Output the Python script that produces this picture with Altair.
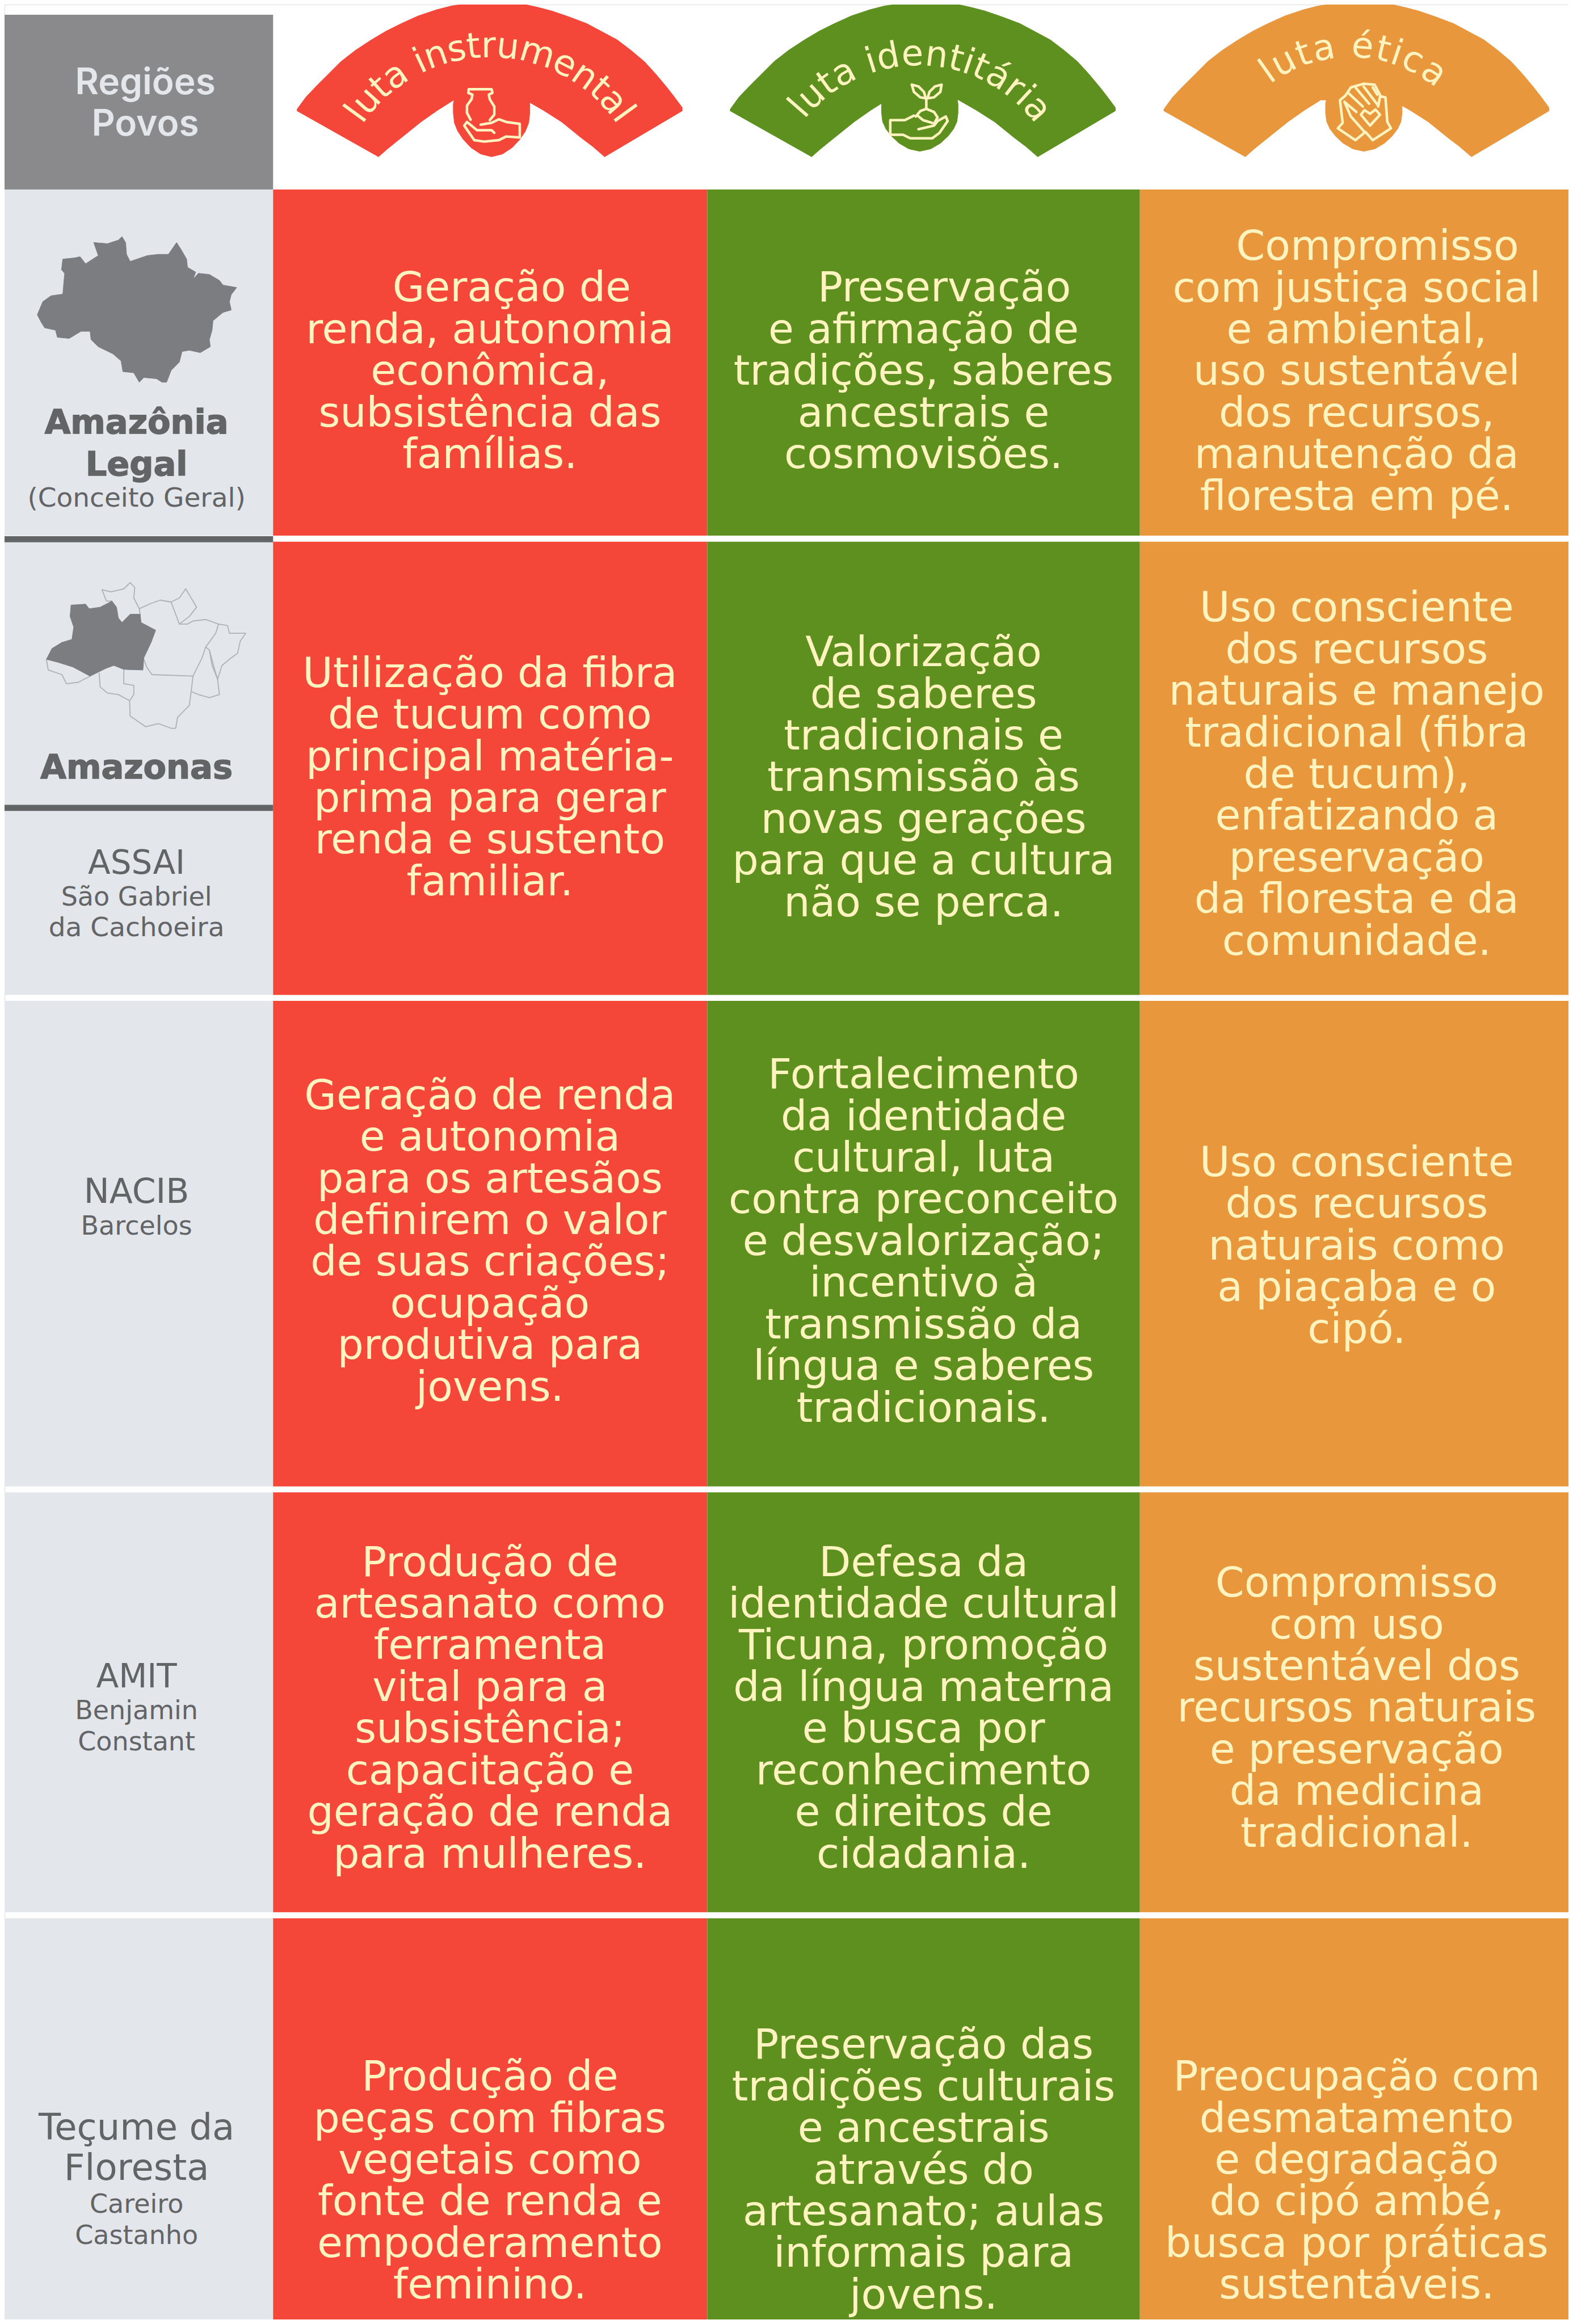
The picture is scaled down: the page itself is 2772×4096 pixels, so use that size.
import math
import altair as alt
import pandas as pd

S = 2772 / 2880
M = 8
W_REF, H_REF = 2880, 4256

RED, GREEN, ORANGE = "#F44739", "#5E901F", "#E8973C"
LIGHT, GRAY, DARK, CREAM = "#E3E6EB", "#8A8A8C", "#636466", "#FFF3C0"
FONT = "DejaVu Sans"

col_edges = [0, 500, 1295, 2087, 2880]
col_colors = [LIGHT, RED, GREEN, ORANGE]
row_tops = [347, 992, 1833, 2733, 3513]
row_bottoms = [981, 1822, 2722, 3502, 4256]
rules_left = [(982, 993), (1474, 1485)]
header_box = (0, 500, 27, 348)

col_centers = [897, 1691, 2484]
line_step = 76.3
first_baselines = [
    [552, 552, 476],
    [1258, 1220, 1138],
    [2031, 1993, 2154],
    [2886, 2886, 2924],
    [3828, 3770, 3828],
]
first_line_shift = {(0, 0): 40, (0, 1): 38, (0, 2): 38}
cells = [
    [
        ["Geração de", "renda, autonomia", "econômica,", "subsistência das", "famílias."],
        ["Preservação", "e afirmação de", "tradições, saberes", "ancestrais e", "cosmovisões."],
        ["Compromisso", "com justiça social", "e ambiental,", "uso sustentável", "dos recursos,", "manutenção da", "floresta em pé."],
    ],
    [
        ["Utilização da fibra", "de tucum como", "principal matéria-", "prima para gerar", "renda e sustento", "familiar."],
        ["Valorização", "de saberes", "tradicionais e", "transmissão às", "novas gerações", "para que a cultura", "não se perca."],
        ["Uso consciente", "dos recursos", "naturais e manejo", "tradicional (fibra", "de tucum),", "enfatizando a", "preservação", "da floresta e da", "comunidade."],
    ],
    [
        ["Geração de renda", "e autonomia", "para os artesãos", "definirem o valor", "de suas criações;", "ocupação", "produtiva para", "jovens."],
        ["Fortalecimento", "da identidade", "cultural, luta", "contra preconceito", "e desvalorização;", "incentivo à", "transmissão da", "língua e saberes", "tradicionais."],
        ["Uso consciente", "dos recursos", "naturais como", "a piaçaba e o", "cipó."],
    ],
    [
        ["Produção de", "artesanato como", "ferramenta", "vital para a", "subsistência;", "capacitação e", "geração de renda", "para mulheres."],
        ["Defesa da", "identidade cultural", "Ticuna, promoção", "da língua materna", "e busca por", "reconhecimento", "e direitos de", "cidadania."],
        ["Compromisso", "com uso", "sustentável dos", "recursos naturais", "e preservação", "da medicina", "tradicional."],
    ],
    [
        ["Produção de", "peças com fibras", "vegetais como", "fonte de renda e", "empoderamento", "feminino."],
        ["Preservação das", "tradições culturais", "e ancestrais", "através do", "artesanato; aulas", "informais para", "jovens."],
        ["Preocupação com", "desmatamento", "e degradação", "do cipó ambé,", "busca por práticas", "sustentáveis."],
    ],
]

left_labels = [
    ("Amazônia", 794, 59, "bold"),
    ("Legal", 871, 59, "bold"),
    ("(Conceito Geral)", 928, 47, "normal"),
    ("Amazonas", 1426, 59, "bold"),
    ("ASSAI", 1600, 58, "normal"),
    ("São Gabriel", 1658, 46, "normal"),
    ("da Cachoeira", 1714, 47, "normal"),
    ("NACIB", 2203, 60, "normal"),
    ("Barcelos", 2261, 46, "normal"),
    ("AMIT", 3090, 58, "normal"),
    ("Benjamin", 3148, 46, "normal"),
    ("Constant", 3206, 46, "normal"),
    ("Teçume da", 3918, 64, "normal"),
    ("Floresta", 3992, 64, "normal"),
    ("Careiro", 4052, 46, "normal"),
    ("Castanho", 4110, 46, "normal"),
]
header_labels = [("Regiões", 172), ("Povos", 248)]

arc_titles = [
    ("luta instrumental", 897, 387, 302, 54),
    ("luta identitária", 1681, 388, 288, 49),
    ("luta ética", 2473, 350, 265, 35),
]
ADV = {"l": .278, "u": .634, "t": .392, "a": .613, " ": .318, "i": .278, "n": .634, "s": .521,
       "r": .411, "m": .974, "e": .615, "d": .635, "á": .613, "é": .615, "c": .55}

band_outer = [(-353, 200), (-337, 178), (-318, 158), (-296, 136), (-273, 113), (-246, 92), (-217, 73), (-190, 57),
              (-162, 43), (-131, 29), (-98, 18), (-71, 11), (-43, 7), (-15, 3),
              (20, 3), (58, 7), (86, 13), (113, 20), (145, 31), (177, 43), (205, 58), (233, 73), (258, 92),
              (283, 113), (304, 136), (324, 160), (338, 178), (352, 197)]
band_inner = [(352, 203), (210, 287), (188, 268), (168, 253), (131, 223), (98, 202), (65, 183), (-66, 183),
              (-96, 202), (-126, 223), (-172, 260), (-188, 273), (-204, 287), (-353, 203)]
bulb = [(-66, 170), (-70, 190), (-70, 207), (-68, 225), (-62, 240), (-52, 255), (-38, 270), (-20, 282), (0, 287),
        (20, 282), (38, 270), (52, 255), (62, 240), (68, 225), (70, 207), (70, 190), (66, 170)]
headers = [(897, 900, 0, RED), (1690, 1684, -10, GREEN), (2484, 2497, -10, ORANGE)]

# icons: (crop x, crop y) with crop scale 3
icon_jar = [
    [(235, 100), (360, 100), (365, 120), (345, 130), (350, 155), (375, 195), (375, 240), (350, 270)],
    [(235, 100), (232, 120), (255, 130), (250, 155), (225, 190), (225, 230), (245, 268)],
    [(300, 295), (360, 285), (400, 265), (440, 280), (515, 290), (515, 365), (440, 360), (400, 380), (320, 388),
     (265, 380), (210, 300), (225, 280), (280, 325), (360, 325), (375, 340)],
]
icon_sprout = [
    [(375, 150), (345, 145), (310, 115), (298, 75), (335, 85), (365, 115), (375, 150)],
    [(385, 150), (420, 145), (455, 115), (462, 75), (425, 85), (395, 115), (385, 150)],
    [(378, 150), (378, 205)],
    [(320, 250), (345, 220), (378, 208), (420, 225), (440, 255), (420, 290)],
    [(330, 245), (360, 270), (410, 285)],
    [(310, 245), (260, 270), (180, 270), (180, 350), (250, 350), (290, 370), (410, 370), (450, 340), (495, 275),
     (485, 250), (440, 275), (420, 300), (335, 320)],
]
icon_hands = [
    [(335, 380), (238, 315), (265, 285), (250, 160), (280, 135), (310, 90), (380, 70), (440, 75), (475, 140),
     (500, 145), (510, 280), (530, 315), (430, 380), (390, 335), (335, 380)],
    [(275, 170), (340, 225)], [(300, 125), (375, 195)], [(335, 90), (410, 180)], [(380, 85), (460, 190)],
    [(430, 90), (455, 130)], [(275, 170), (310, 250), (385, 335)], [(470, 140), (460, 195)],
    [(415, 300), (365, 240), (385, 215), (415, 235), (445, 212), (470, 240), (415, 300)],
]
icons = [(780, 130, icon_jar), (1570, 130, icon_sprout), (2370, 130, icon_hands)]

# maps
map_legal = [(205, 545), (235, 490), (280, 465), (345, 458), (355, 370), (338, 355), (345, 310), (410, 305), (440, 300),
             (470, 330), (540, 295), (515, 240), (590, 245), (650, 230), (670, 215), (690, 240), (695, 290), (715, 320),
             (810, 295), (870, 290), (925, 290), (970, 240), (995, 270), (1025, 310), (1030, 345), (1075, 365), (1060, 395),
             (1090, 370), (1150, 375), (1205, 400), (1225, 420), (1300, 430), (1270, 460), (1260, 490), (1270, 525),
             (1225, 535), (1170, 570), (1165, 610), (1150, 650), (1155, 680), (1100, 705), (1040, 695), (1000, 700),
             (985, 745), (940, 780), (915, 830), (890, 830), (860, 815), (790, 810), (765, 830), (735, 790), (675, 785),
             (665, 740), (620, 710), (540, 680), (500, 650), (495, 615), (445, 615), (380, 645), (315, 640), (305, 610),
             (245, 600), (225, 575)]
map_amazonas = [(255, 405), (285, 370), (340, 350), (395, 340), (405, 300), (385, 265), (390, 228), (470, 225), (490, 240),
                (550, 235), (615, 215), (640, 235), (650, 270), (670, 285), (715, 258), (770, 258), (775, 285), (855, 310),
                (830, 350), (790, 400), (785, 440), (680, 438), (625, 425), (580, 435), (495, 460), (400, 430), (320, 415)]
map_states = [
    [(615, 215), (585, 215), (560, 178), (610, 185), (680, 175), (715, 155), (740, 170), (735, 205), (765, 240), (770, 258)],
    [(765, 240), (820, 225), (880, 212), (940, 218), (985, 290)],
    [(940, 218), (985, 205), (1020, 175), (1045, 200), (1080, 235), (1040, 265), (985, 290)],
    [(985, 290), (1030, 290), (1060, 280), (1130, 275), (1200, 290), (1185, 320), (1130, 365), (1110, 400), (1060, 460),
     (835, 455), (805, 430), (790, 405)],
    [(1200, 290), (1250, 295), (1260, 320), (1350, 320), (1320, 345), (1305, 385), (1260, 405), (1220, 425), (1195, 470),
     (1175, 430), (1150, 375), (1130, 365)],
    [(1150, 375), (1165, 425), (1195, 470), (1205, 520), (1150, 530), (1090, 520), (1050, 510), (1060, 460)],
    [(680, 440), (680, 485), (735, 490), (735, 520), (712, 540), (715, 590), (800, 625), (870, 615), (940, 630), (965, 630),
     (975, 595), (1040, 555), (1050, 510)],
    [(545, 450), (550, 495), (590, 515), (650, 520), (712, 540)],
    [(255, 405), (265, 440), (340, 455), (365, 485), (430, 480), (495, 460)],
]

# ---- scales: reference pixels onto the page (the page margin sits at 8px on each side)
X = alt.X("x:Q", scale=alt.Scale(domain=[0, W_REF], range=[-M, 2772 - M]), axis=None)
X2 = alt.X2("x2:Q")
Y = alt.Y("y:Q", scale=alt.Scale(domain=[0, H_REF], range=[-M, 4096 - M]), axis=None)
Y2 = alt.Y2("y2:Q")
PROJ = dict(type="identity", scale=S, translate=[-M, -M])


def feature(geom_type, coords):
    return {"type": "Feature", "properties": {}, "geometry": {"type": geom_type, "coordinates": coords}}


def fill_shape(polys, color):
    feats = [feature("Polygon", [[list(p) for p in (poly + [poly[0]])]]) for poly in polys]
    return alt.Chart(alt.Data(values=feats)).mark_geoshape(fill=color, stroke=color, strokeWidth=1).project(**PROJ)


def line_shape(lines, color, width):
    feats = [feature("LineString", [list(p) for p in line]) for line in lines]
    return alt.Chart(alt.Data(values=feats)).mark_geoshape(
        filled=False, stroke=color, strokeWidth=width, strokeJoin="round", strokeCap="round"
    ).project(**PROJ)


# ---- rects
rects = [dict(x=header_box[0], x2=header_box[1], y=header_box[2], y2=header_box[3], c=GRAY)]
for top, bot in zip(row_tops, row_bottoms):
    for i, c in enumerate(col_colors):
        rects.append(dict(x=col_edges[i], x2=col_edges[i + 1], y=top, y2=bot, c=c))
for top, bot in rules_left:
    rects.append(dict(x=0, x2=500, y=top, y2=bot, c=DARK))
rect_layer = alt.Chart(pd.DataFrame(rects)).mark_rect().encode(
    x=X, x2=X2, y=Y, y2=Y2, color=alt.Color("c:N", scale=None)
)

layers = [rect_layer]

# ---- header fans
for cx, ex, dy, color in headers:
    band = [(cx + a, b) for a, b in band_outer + band_inner]
    ell = [(ex + a, b + (dy * (b - 207) / 80 if b > 207 else 0)) for a, b in bulb]
    layers.append(fill_shape([band, ell], color))

# ---- icons
for ox, oy, lines in icons:
    layers.append(line_shape([[(ox + a / 3, oy + b / 3) for a, b in ln] for ln in lines], CREAM, 4.5))

# ---- maps
legal = [(a / 3, 340 + b / 2.306) for a, b in map_legal]
amaz = [(a / 3, 980 + b / 1.782) for a, b in map_amazonas]
states = [[(a / 3, 980 + b / 1.782) for a, b in ln] for ln in map_states]
layers.append(fill_shape([legal], "#7C7D81"))
layers.append(line_shape(states, "#AEB1B5", 1.8))
layers.append(fill_shape([amaz], "#7C7D81"))

# ---- cell text: one multi-line text per cell; an indented first line stands on its own
rows = []
for r, row in enumerate(cells):
    for c, lines in enumerate(row):
        base = first_baselines[r][c]
        if (r, c) in first_line_shift:
            rows.append(dict(x=col_centers[c] + first_line_shift[(r, c)], y=base, t=lines[0]))
            rows.append(dict(x=col_centers[c], y=base + line_step, t="\n".join(lines[1:])))
        else:
            rows.append(dict(x=col_centers[c], y=base, t="\n".join(lines)))
layers.append(
    alt.Chart(pd.DataFrame(rows)).mark_text(
        font=FONT, fontSize=73, align="center", baseline="alphabetic", color=CREAM,
        lineBreak="\n", lineHeight=line_step * S
    ).encode(x=X, y=Y, text="t:N")
)

# ---- left column text
df_left = pd.DataFrame([dict(x=250, y=y, t=t, s=s, w=w) for t, y, s, w in left_labels])
layers.append(
    alt.Chart(df_left[df_left.w == "normal"]).mark_text(
        font=FONT, align="center", baseline="alphabetic", color=DARK
    ).encode(x=X, y=Y, text="t:N", size=alt.Size("s:Q", scale=None, legend=None))
)
layers.append(
    alt.Chart(df_left[df_left.w == "bold"]).mark_text(
        font=FONT, fontWeight="bold", align="center", baseline="alphabetic", color=DARK,
        stroke=DARK, strokeWidth=1.5
    ).encode(x=X, y=Y, text="t:N", size=alt.Size("s:Q", scale=None, legend=None))
)

layers.append(
    alt.Chart(pd.DataFrame([dict(x=266, y=y, t=t) for t, y in header_labels])).mark_text(
        font="Inter", fontWeight=600, fontSize=64, align="center", baseline="alphabetic", color=LIGHT
    ).encode(x=X, y=Y, text="t:N")
)

# ---- curved titles
chars = []
for title, cx, cy, R, span in arc_titles:
    pos, run = [], 0.0
    for ch in title:
        pos.append(run + ADV[ch] / 2)
        run += ADV[ch]
    for ch, p in zip(title, pos):
        if ch == " ":
            continue
        th = -span + 2 * span * (p - pos[0]) / (pos[-1] - pos[0])
        rad = math.radians(th)
        chars.append(dict(x=cx + R * math.sin(rad), y=cy - R * math.cos(rad), t=ch, a=th % 360))
layers.append(
    alt.Chart(pd.DataFrame(chars)).mark_text(
        font=FONT, fontSize=63, align="center", baseline="middle", color=CREAM
    ).encode(x=X, y=Y, text="t:N", angle=alt.Angle("a:Q", scale=None))
)

chart = alt.layer(*layers).properties(
    width=2772 - 2 * M, height=4096 - 2 * M, padding=0, autosize=alt.AutoSizeParams(type="none")
).configure_view(stroke=None).configure(background="white")

chart.save("out.html", embed_options={"renderer": "svg", "actions": False})
